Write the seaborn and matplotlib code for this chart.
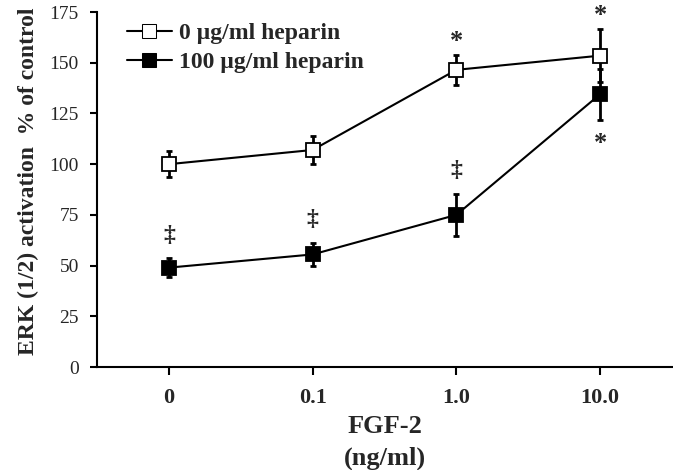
import numpy as np
import pandas as pd
import seaborn as sns
import matplotlib.pyplot as plt

# data
fgf_labels = ['0', '0.1', '1.0', '10.0']
heparin_0 = [100, 107, 146.5, 153.5]
heparin_0_err = [6.5, 7, 7.5, 13]
heparin_100 = [49, 55.5, 75, 134.5]
heparin_100_err = [4.5, 5.5, 10.5, 12.5]
dagger_y = [65, 72.5, 97]          # ‡ over the 100 µg/ml points 0..2
star_y = [(2, 162.5), (3, 175.5), (3, 112)]

sns.set_theme(style='white')
plt.rcParams['font.family'] = ['Liberation Serif', 'DejaVu Serif']

pos = np.arange(len(fgf_labels))
lab0 = '0 µg/ml heparin'
lab100 = '100 µg/ml heparin'
df = pd.DataFrame({
    'x': np.concatenate([pos, pos]),
    'y': heparin_0 + heparin_100,
    'grupo': [lab0] * 4 + [lab100] * 4,
})

fig = plt.figure(figsize=(6.73, 4.70), dpi=100)
ax = fig.add_axes([0.1441, 0.2191, 0.8544, 0.7553])

sns.lineplot(data=df, x='x', y='y', hue='grupo', style='grupo',
             palette=['black', 'black'], markers=['s', 's'], dashes=False,
             linewidth=1.5, ax=ax, zorder=3)
for ln, fc in zip(ax.lines[:2], ['white', 'black']):
    ln.set_markersize(10)
    ln.set_markerfacecolor(fc)
    ln.set_markeredgecolor('black')
    ln.set_markeredgewidth(1.3)

ax.errorbar(pos, heparin_0, yerr=heparin_0_err, fmt='none', ecolor='black',
            elinewidth=2, capsize=2.5, capthick=2, zorder=2)
ax.errorbar(pos, heparin_100, yerr=heparin_100_err, fmt='none', ecolor='black',
            elinewidth=2, capsize=2.5, capthick=2, zorder=2)

for i, yv in enumerate(dagger_y):
    ax.text(pos[i], yv, '‡', ha='center', va='center', fontsize=17,
            fontweight='bold')
for i, yv in star_y:
    ax.text(pos[i], yv - 2, '*', ha='center', va='center', fontsize=19,
            fontweight='bold')

ax.set_xlim(-0.5, 3.5)
ax.set_ylim(0, 175)
ax.set_yticks(np.arange(0, 176, 25))
ax.set_xticks(pos)
ax.set_xticklabels(fgf_labels)
ax.tick_params(axis='y', direction='out', length=5, width=1.5,
               color='black', labelsize=14, pad=8, left=True)
ax.tick_params(axis='x', direction='out', length=6, width=1.5,
               color='black', labelsize=16, pad=9, bottom=True)
for t in ax.get_xticklabels():
    t.set_fontweight('bold')
for s in ['top', 'right']:
    ax.spines[s].set_visible(False)
for s in ['left', 'bottom']:
    ax.spines[s].set_color('black')
    ax.spines[s].set_linewidth(1.5)

ax.set_xlabel('FGF-2\n(ng/ml)', fontsize=19, fontweight='bold', labelpad=5,
              linespacing=1.5)
ax.set_ylabel('ERK (1/2) activation  % of control', fontsize=17,
              fontweight='bold')
ax.yaxis.set_label_coords(-0.1, 0.524)

h, l = ax.get_legend_handles_labels()
leg = ax.legend(h, l, loc='upper left', bbox_to_anchor=(0.052, 0.97),
                frameon=False, handlelength=1.9, handletextpad=0.3,
                labelspacing=0.3, borderpad=0, borderaxespad=0,
                prop={'weight': 'bold', 'size': 17})
for lh, fc in zip(leg.legend_handles, ['white', 'black']):
    lh.set_markerfacecolor(fc)
    lh.set_markeredgecolor('black')
    lh.set_markersize(10)
    lh.set_linewidth(1.5)

fig.savefig('out.png', dpi=100)
